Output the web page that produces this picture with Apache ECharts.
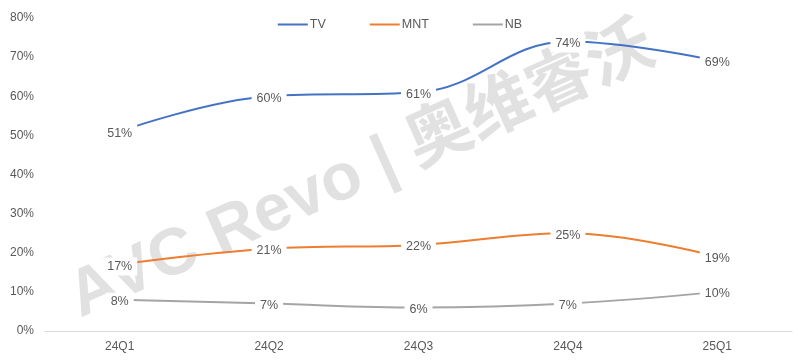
<!DOCTYPE html>
<html><head><meta charset="utf-8">
<script src="https://cdn.jsdelivr.net/npm/echarts@6/dist/echarts.min.js"></script>
<style>html,body{margin:0;padding:0;background:#fff}#c{width:800px;height:364px}</style>
</head><body><div id="c"></div>
<script>
const categories = ['24Q1','24Q2','24Q3','24Q4','25Q1'];
const tv = [51, 60, 61, 74, 69];
const mnt = [17, 21, 22, 25, 19];
const nb = [8, 7, 6, 7, 10];
const yTicks = {min: 0, max: 80, interval: 10};

const font = '"Liberation Sans", Arial, sans-serif';
const txt = '#595959';
function s(name, data, color) {
  return {
    name, type: 'line', data, smooth: 0.4, symbol: 'circle', symbolSize: 0, showSymbol: true,
    lineStyle: {color, width: 2}, itemStyle: {color},
    label: {show: true, position: 'top', distance: 0, offset: [0, 11], formatter: '{c}%', color: txt, fontSize: 12.5,
      fontFamily: font, backgroundColor: '#fff', padding: [2, 5], lineHeight: 14},
    emphasis: {disabled: true},
    z: 3
  };
}
const chart = echarts.init(document.getElementById('c'), null, {renderer: 'canvas'});
chart.setOption({
  animation: false,
  textStyle: {fontFamily: font},
  graphic: [{
    type: 'text', x: 362, y: 172, rotation: 0.42, z: 0, silent: true,
    style: {text: 'AVC Revo | 奥维睿沃', align: 'center', verticalAlign: 'middle',
      font: 'bold 66px "Liberation Sans", "Noto Sans CJK SC", sans-serif',
      fill: 'rgba(205,205,205,0.6)'}
  }],
  legend: {
    top: 13, left: 'center', itemWidth: 30, itemHeight: 2, itemGap: 44,
    icon: 'rect',
    textStyle: {color: txt, fontSize: 12.5, fontFamily: font, padding: [0, 0, 0, -3]},
    data: ['TV', 'MNT', 'NB']
  },
  grid: {left: 45, right: 8, top: 18, bottom: 33, containLabel: false},
  xAxis: {
    type: 'category', data: categories, boundaryGap: true,
    axisLine: {lineStyle: {color: '#d9d9d9', width: 1}},
    axisTick: {show: false},
    axisLabel: {color: txt, fontSize: 12, margin: 10, fontFamily: font}
  },
  yAxis: {
    type: 'value', min: yTicks.min, max: yTicks.max, interval: yTicks.interval,
    axisLine: {show: false}, axisTick: {show: false}, splitLine: {show: false},
    axisLabel: {formatter: '{value}%', color: txt, fontSize: 12, margin: 11, fontFamily: font}
  },
  series: [s('TV', tv, '#4472C4'), s('MNT', mnt, '#ED7D31'), s('NB', nb, '#A5A5A5')]
});
</script></body></html>
